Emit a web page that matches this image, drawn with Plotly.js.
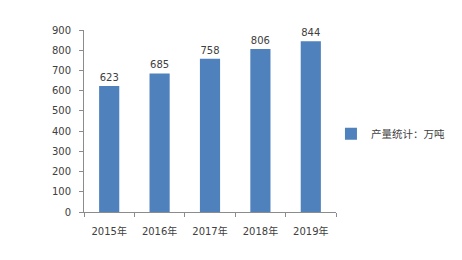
<!DOCTYPE html>
<html>
<head>
<meta charset="utf-8">
<script src="https://cdn.plot.ly/plotly-3.0.1.min.js"></script>
<style>html,body{margin:0;padding:0;background:#fff;}#chart{width:462px;height:260px;}</style>
</head>
<body>
<div id="chart"></div>
<script>
var categories = ['2015年', '2016年', '2017年', '2018年', '2019年'];
var values = [623, 685, 758, 806, 844];
var seriesName = '产量统计：万吨';
var yTicks = [0, 100, 200, 300, 400, 500, 600, 700, 800, 900];

var font = '"DejaVu Sans", "Noto Sans CJK SC", sans-serif';

var trace = {
  type: 'bar',
  x: categories,
  y: values,
  name: seriesName,
  text: values.map(String),
  textposition: 'outside',
  textfont: {family: font, size: 10, color: '#404040'},
  cliponaxis: false,
  marker: {color: '#4f81bd'},
  showlegend: true
};

var layout = {
  width: 462,
  height: 260,
  margin: {l: 84, r: 126, t: 30, b: 48},
  paper_bgcolor: '#ffffff',
  plot_bgcolor: '#ffffff',
  bargap: 0.6,
  font: {family: font, size: 10, color: '#404040'},
  xaxis: {
    type: 'category',
    showline: true,
    linecolor: '#8c8c8c',
    linewidth: 1,
    ticks: 'outside',
    tickson: 'boundaries',
    ticklen: 4,
    tickcolor: '#8c8c8c',
    showgrid: false,
    ticklabelstandoff: 10,
    tickfont: {family: font, size: 10, color: '#404040'}
  },
  yaxis: {
    range: [0, 900],
    tickvals: yTicks,
    ticktext: yTicks.map(String),
    showline: true,
    linecolor: '#8c8c8c',
    linewidth: 1,
    ticks: 'outside',
    ticklen: 4,
    tickcolor: '#8c8c8c',
    showgrid: false,
    zeroline: false,
    ticklabelstandoff: 6,
    tickfont: {family: font, size: 10, color: '#404040'}
  },
  showlegend: true,
  legend: {
    x: 0.98,
    xanchor: 'left',
    y: 0.43,
    yanchor: 'middle',
    itemwidth: 30,
    font: {family: '"Noto Sans CJK SC", sans-serif', size: 10.5, color: '#404040'},
    bgcolor: 'rgba(0,0,0,0)'
  }
};

Plotly.newPlot('chart', [trace], layout, {displayModeBar: false, staticPlot: true});
</script>
</body>
</html>
